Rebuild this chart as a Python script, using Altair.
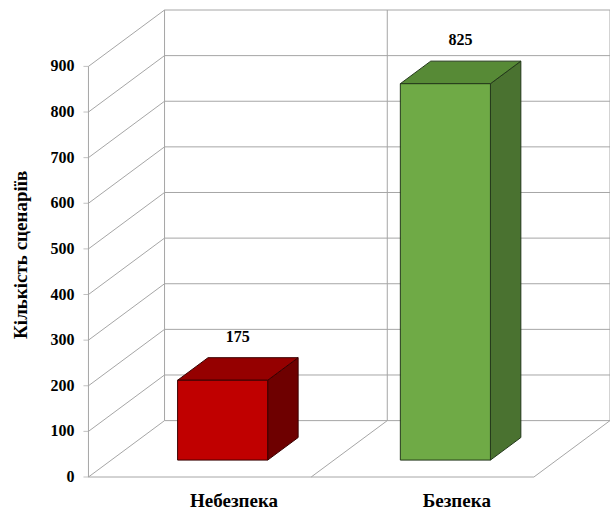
import altair as alt
import pandas as pd

# Data
categories = ["Небезпека", "Безпека"]
values = [175, 825]
tick_values = [0, 100, 200, 300, 400, 500, 600, 700, 800, 900]
y_title = "Кількість сценаріїв"

front_colors = ["#C00000", "#6FAA46"]
top_colors = ["#950000", "#578A36"]
side_colors = ["#6E0000", "#4A7230"]
edge_colors = ["#3A0000", "#23381A"]

# Oblique projection of the depth axis, in data units
DX = 0.3416          # horizontal shift of the back plane (category units)
DY = 123.6           # vertical shift of the back plane (value units)
YMAX = 900
XM = 0.02            # small margin left of the front plane
BAR_W = 0.4045
F0, F1 = 0.3, 0.7    # depth fractions of the bar front and back faces

FONT = "Times New Roman"
GRID = "#A6A6A6"

xs = alt.Scale(domain=[-XM, 2 + DX], nice=False, zero=False)
ys = alt.Scale(domain=[0, YMAX + DY], nice=False, zero=False)


def X(field="x"):
    return alt.X(f"{field}:Q", scale=xs, axis=None)


def Y(field="y"):
    return alt.Y(f"{field}:Q", scale=ys, axis=None)


# --- wall and floor frame ---
back_h = pd.DataFrame({"x": [DX] * len(tick_values),
                       "x2": [2 + DX] * len(tick_values),
                       "y": [t + DY for t in tick_values]})
back_v = pd.DataFrame({"x": [DX, 1 + DX, 2 + DX], "y": [DY] * 3, "y2": [YMAX + DY] * 3})
left_diag = pd.DataFrame({"x": [0.0] * len(tick_values), "y": tick_values,
                          "x2": [DX] * len(tick_values),
                          "y2": [t + DY for t in tick_values]})
floor_diag = pd.DataFrame({"x": [1.0, 2.0], "y": [0, 0], "x2": [1 + DX, 2 + DX], "y2": [DY, DY]})
floor_front = pd.DataFrame({"x": [0.0], "x2": [2.0], "y": [0]})
front_axis = pd.DataFrame({"x": [0.0], "y": [0], "y2": [YMAX]})
ticks_df = pd.DataFrame({"x": [0.0] * len(tick_values), "y": tick_values,
                         "label": [str(t) for t in tick_values]})
title_df = pd.DataFrame({"x": [0.0], "y": [487.0], "label": [y_title]})

l_back_h = alt.Chart(back_h).mark_rule(color=GRID, strokeWidth=1).encode(
    x=X(), x2="x2:Q", y=Y())
l_back_v = alt.Chart(back_v).mark_rule(color=GRID, strokeWidth=1).encode(
    x=X(), y=Y(), y2="y2:Q")
l_left = alt.Chart(left_diag).mark_rule(color=GRID, strokeWidth=1).encode(
    x=X(), y=Y(), x2="x2:Q", y2="y2:Q")
l_floor = alt.Chart(floor_diag).mark_rule(color=GRID, strokeWidth=1).encode(
    x=X(), y=Y(), x2="x2:Q", y2="y2:Q")
l_floor_front = alt.Chart(floor_front).mark_rule(color=GRID, strokeWidth=1).encode(
    x=X(), x2="x2:Q", y=Y())
l_front_axis = alt.Chart(front_axis).mark_rule(color=GRID, strokeWidth=1).encode(
    x=X(), y=Y(), y2="y2:Q")

# tick marks and tick labels of the value axis
l_ticks = alt.Chart(ticks_df).mark_tick(color=GRID, orient="horizontal", size=5, thickness=1,
                                        xOffset=-2.5).encode(x=X(), y=Y())
l_tick_labels = alt.Chart(ticks_df).mark_text(
    font=FONT, fontSize=16, fontWeight="bold", color="#000", align="right",
    baseline="middle", dx=-14).encode(x=X(), y=Y(), text="label:N")
l_title = alt.Chart(title_df).mark_text(
    font=FONT, fontSize=19, fontWeight="bold", color="#000", angle=270,
    align="center", baseline="middle", dy=-67).encode(x=X(), y=Y(), text="label:N")

# --- bars ---
front_rows, top_rows, side_rows, label_rows = [], [], [], []
for i, (cat, v) in enumerate(zip(categories, values)):
    x0 = i + 0.5 - BAR_W / 2
    x1 = i + 0.5 + BAR_W / 2
    front_rows.append({"id": cat, "x": x0 + F0 * DX, "x2": x1 + F0 * DX,
                       "y": F0 * DY, "y2": v + F0 * DY,
                       "fill": front_colors[i], "edge": edge_colors[i]})
    for f in (F0, F1):
        top_rows.append({"id": cat, "y": v + f * DY, "x": x0 + f * DX, "x2": x1 + f * DX,
                         "fill": top_colors[i], "edge": edge_colors[i]})
        side_rows.append({"id": cat, "x": x1 + f * DX, "y": f * DY, "y2": v + f * DY,
                          "fill": side_colors[i], "edge": edge_colors[i]})
    label_rows.append({"cat": cat, "v": v, "x": i + 0.5 + 0.5 * DX, "y": v + 0.5 * DY,
                       "xc": i + 0.5 + 0.45 * DX, "yc": 0})

front_df = pd.DataFrame(front_rows)
top_df = pd.DataFrame(top_rows)
side_df = pd.DataFrame(side_rows)
label_df = pd.DataFrame(label_rows)

l_side = alt.Chart(side_df).mark_area(orient="vertical", strokeWidth=1).encode(
    x=X(), y=Y(), y2="y2:Q",
    detail="id:N", fill=alt.Fill("fill:N", scale=None), stroke=alt.Stroke("edge:N", scale=None))
l_top = alt.Chart(top_df).mark_area(orient="horizontal", strokeWidth=1).encode(
    y=Y(), x=X(), x2="x2:Q",
    detail="id:N", fill=alt.Fill("fill:N", scale=None), stroke=alt.Stroke("edge:N", scale=None))
l_front_face = alt.Chart(front_df).mark_rect(strokeWidth=1).encode(
    x=X(), x2="x2:Q", y=Y(), y2="y2:Q",
    fill=alt.Fill("fill:N", scale=None), stroke=alt.Stroke("edge:N", scale=None))

l_values = alt.Chart(label_df).mark_text(
    font=FONT, fontSize=16, fontWeight="bold", color="#000", dy=-32, baseline="middle").encode(
    x=X(), y=Y(), text="v:Q")
l_cats = alt.Chart(label_df).mark_text(
    font=FONT, fontSize=19, fontWeight="bold", color="#000", dy=24, baseline="middle").encode(
    x=X("xc"), y=Y("yc"), text="cat:N")

chart = alt.layer(
    l_back_h, l_back_v, l_left, l_floor, l_floor_front, l_front_axis,
    l_ticks, l_tick_labels, l_title,
    l_side, l_top, l_front_face, l_values, l_cats
).properties(
    width=526, height=467,
    padding={"left": 84, "top": 10, "right": 0, "bottom": 37},
    autosize=alt.AutoSizeParams(type="none"),
    background="white",
).configure_view(stroke=None)

chart.save("out.html", embed_options={"renderer": "svg", "actions": False})
